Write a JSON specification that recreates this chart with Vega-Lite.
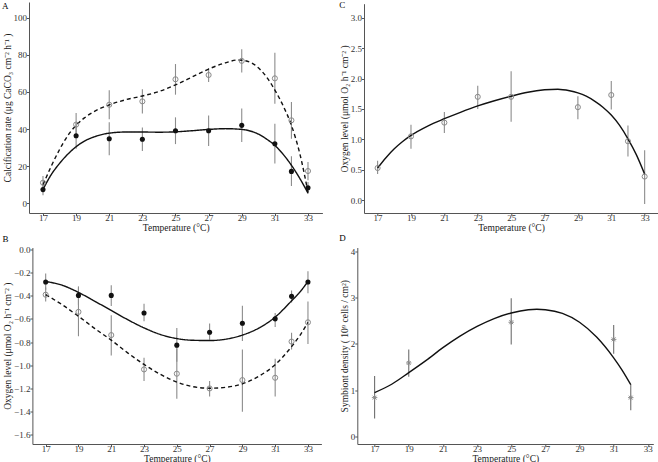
{
  "$schema": "https://vega.github.io/schema/vega-lite/v6.json",
  "padding": {"left": 2, "top": 0, "right": 0, "bottom": 0},
  "columns": 2,
  "align": "none",
  "bounds": "flush",
  "spacing": {"row": 34.5, "column": 34.3},
  "datasets": {
    "a_pts": [
      {"t":17,"g":"f","v":7.4,"lo":4.3,"hi":10.6},
      {"t":19,"g":"f","v":36.4,"lo":29.4,"hi":43.4},
      {"t":21,"g":"f","v":34.8,"lo":25.9,"hi":43.7},
      {"t":23,"g":"f","v":34.5,"lo":28.2,"hi":40.8},
      {"t":25,"g":"f","v":39.1,"lo":31.9,"hi":46.3},
      {"t":27,"g":"f","v":39.1,"lo":30.9,"hi":47.3},
      {"t":29,"g":"f","v":42.0,"lo":33.0,"hi":51.0},
      {"t":31,"g":"f","v":32.1,"lo":21.4,"hi":42.8},
      {"t":32,"g":"f","v":17.2,"lo":9.3,"hi":25.3},
      {"t":33,"g":"f","v":8.4,"lo":5.2,"hi":11.5},
      {"t":17,"g":"o","v":11.1,"lo":7.9,"hi":14.7},
      {"t":19,"g":"o","v":42.4,"lo":36.4,"hi":48.6},
      {"t":21,"g":"o","v":53.1,"lo":45.3,"hi":60.9},
      {"t":23,"g":"o","v":54.9,"lo":48.4,"hi":61.4},
      {"t":25,"g":"o","v":66.8,"lo":58.5,"hi":75.0},
      {"t":27,"g":"o","v":69.1,"lo":65.3,"hi":72.9},
      {"t":29,"g":"o","v":76.7,"lo":70.4,"hi":82.9},
      {"t":31,"g":"o","v":67.3,"lo":53.6,"hi":81.1},
      {"t":32,"g":"o","v":44.7,"lo":34.8,"hi":54.6},
      {"t":33,"g":"o","v":17.4,"lo":12.4,"hi":22.3}
    ],
    "a_fit": [
      {"t":17,"g":"f","v":7.5},{"t":17.5,"g":"f","v":15.5},{"t":18,"g":"f","v":21.5},{"t":18.5,"g":"f","v":26.5},
      {"t":19,"g":"f","v":30.5},{"t":19.5,"g":"f","v":33.5},{"t":20,"g":"f","v":35.5},{"t":21,"g":"f","v":37.8},
      {"t":22,"g":"f","v":38.4},{"t":23,"g":"f","v":38.4},{"t":24,"g":"f","v":38.3},{"t":25,"g":"f","v":38.5},
      {"t":26,"g":"f","v":39.1},{"t":27,"g":"f","v":39.8},{"t":28,"g":"f","v":40.2},{"t":29,"g":"f","v":39.8},
      {"t":30,"g":"f","v":37.3},{"t":30.5,"g":"f","v":34.6},{"t":31,"g":"f","v":31.2},{"t":31.5,"g":"f","v":26.4},
      {"t":32,"g":"f","v":20.5},{"t":32.5,"g":"f","v":13.5},{"t":33,"g":"f","v":5.5},
      {"t":17,"g":"o","v":10},{"t":17.5,"g":"o","v":20},{"t":18,"g":"o","v":29},{"t":18.5,"g":"o","v":36.5},
      {"t":19,"g":"o","v":42},{"t":19.5,"g":"o","v":46},{"t":20,"g":"o","v":49},{"t":21,"g":"o","v":53},
      {"t":22,"g":"o","v":55.8},{"t":23,"g":"o","v":57.8},{"t":24,"g":"o","v":60.2},{"t":25,"g":"o","v":63.8},
      {"t":26,"g":"o","v":68},{"t":27,"g":"o","v":72.3},{"t":28,"g":"o","v":75.6},{"t":28.8,"g":"o","v":77.2},
      {"t":29.5,"g":"o","v":76},{"t":30,"g":"o","v":73},{"t":30.5,"g":"o","v":68},{"t":31,"g":"o","v":61},
      {"t":31.5,"g":"o","v":52.5},{"t":32,"g":"o","v":42},{"t":32.5,"g":"o","v":27},{"t":33,"g":"o","v":6}
    ],
    "c_pts": [
      {"t":17,"v":0.53,"lo":0.43,"hi":0.65},
      {"t":19,"v":1.05,"lo":0.845,"hi":1.24},
      {"t":21,"v":1.276,"lo":1.105,"hi":1.45},
      {"t":23,"v":1.70,"lo":1.50,"hi":1.88},
      {"t":25,"v":1.70,"lo":1.29,"hi":2.12},
      {"t":29,"v":1.53,"lo":1.33,"hi":1.71},
      {"t":31,"v":1.73,"lo":1.49,"hi":1.96},
      {"t":32,"v":0.97,"lo":0.72,"hi":1.23},
      {"t":33,"v":0.39,"lo":-0.06,"hi":0.82}
    ],
    "c_fit": [
      {"t":17,"v":0.53},{"t":17.5,"v":0.70},{"t":18,"v":0.845},{"t":18.5,"v":0.965},{"t":19,"v":1.066},
      {"t":20,"v":1.22},{"t":21,"v":1.34},{"t":22,"v":1.45},{"t":23,"v":1.55},{"t":24,"v":1.635},
      {"t":25,"v":1.71},{"t":26,"v":1.775},{"t":27,"v":1.815},{"t":27.8,"v":1.825},{"t":28.5,"v":1.80},
      {"t":29,"v":1.765},{"t":29.5,"v":1.71},{"t":30,"v":1.63},{"t":30.5,"v":1.53},{"t":31,"v":1.40},
      {"t":31.5,"v":1.23},{"t":32,"v":1.01},{"t":32.5,"v":0.75},{"t":33,"v":0.43}
    ],
    "b_pts": [
      {"t":17,"g":"f","v":-0.283,"lo":-0.35,"hi":-0.21},
      {"t":19,"g":"f","v":-0.398,"lo":-0.48,"hi":-0.32},
      {"t":21,"g":"f","v":-0.398,"lo":-0.49,"hi":-0.31},
      {"t":23,"g":"f","v":-0.55,"lo":-0.62,"hi":-0.47},
      {"t":25,"g":"f","v":-0.827,"lo":-0.97,"hi":-0.68},
      {"t":27,"g":"f","v":-0.716,"lo":-0.78,"hi":-0.64},
      {"t":29,"g":"f","v":-0.638,"lo":-0.79,"hi":-0.487},
      {"t":31,"g":"f","v":-0.60,"lo":-0.67,"hi":-0.55},
      {"t":32,"g":"f","v":-0.406,"lo":-0.46,"hi":-0.355},
      {"t":33,"g":"f","v":-0.283,"lo":-0.38,"hi":-0.19},
      {"t":17,"g":"o","v":-0.392,"lo":-0.45,"hi":-0.33},
      {"t":19,"g":"o","v":-0.54,"lo":-0.75,"hi":-0.33},
      {"t":21,"g":"o","v":-0.74,"lo":-0.915,"hi":-0.57},
      {"t":23,"g":"o","v":-1.036,"lo":-1.136,"hi":-0.935},
      {"t":25,"g":"o","v":-1.073,"lo":-1.288,"hi":-0.855},
      {"t":27,"g":"o","v":-1.20,"lo":-1.27,"hi":-1.136},
      {"t":29,"g":"o","v":-1.128,"lo":-1.40,"hi":-0.864},
      {"t":31,"g":"o","v":-1.108,"lo":-1.27,"hi":-0.945},
      {"t":32,"g":"o","v":-0.796,"lo":-0.864,"hi":-0.72},
      {"t":33,"g":"o","v":-0.63,"lo":-0.816,"hi":-0.45}
    ],
    "b_fit": [
      {"t":17,"g":"f","v":-0.278},{"t":18,"g":"f","v":-0.31},{"t":19,"g":"f","v":-0.372},{"t":20,"g":"f","v":-0.449},
      {"t":21,"g":"f","v":-0.527},{"t":22,"g":"f","v":-0.607},{"t":23,"g":"f","v":-0.678},{"t":24,"g":"f","v":-0.735},
      {"t":25,"g":"f","v":-0.77},{"t":26,"g":"f","v":-0.785},{"t":27,"g":"f","v":-0.787},{"t":28,"g":"f","v":-0.775},
      {"t":29,"g":"f","v":-0.74},{"t":30,"g":"f","v":-0.68},{"t":31,"g":"f","v":-0.585},{"t":32,"g":"f","v":-0.445},
      {"t":32.5,"g":"f","v":-0.37},{"t":33,"g":"f","v":-0.278},
      {"t":17,"g":"o","v":-0.392},{"t":18,"g":"o","v":-0.478},{"t":19,"g":"o","v":-0.578},{"t":20,"g":"o","v":-0.684},
      {"t":21,"g":"o","v":-0.784},{"t":22,"g":"o","v":-0.893},{"t":23,"g":"o","v":-0.993},{"t":24,"g":"o","v":-1.079},
      {"t":25,"g":"o","v":-1.145},{"t":26,"g":"o","v":-1.185},{"t":27,"g":"o","v":-1.198},{"t":28,"g":"o","v":-1.19},
      {"t":29,"g":"o","v":-1.16},{"t":30,"g":"o","v":-1.095},{"t":31,"g":"o","v":-0.995},{"t":32,"g":"o","v":-0.84},
      {"t":32.5,"g":"o","v":-0.745},{"t":33,"g":"o","v":-0.63}
    ],
    "d_pts": [
      {"t":17,"v":0.84,"lo":0.39,"hi":1.31},
      {"t":19,"v":1.59,"lo":1.29,"hi":1.88},
      {"t":25,"v":2.47,"lo":1.99,"hi":2.99},
      {"t":31,"v":2.10,"lo":1.79,"hi":2.41},
      {"t":32,"v":0.84,"lo":0.57,"hi":1.13}
    ],
    "d_fit": [
      {"t":17,"v":0.95},{"t":18,"v":1.13},{"t":19,"v":1.38},{"t":20,"v":1.64},{"t":21,"v":1.92},
      {"t":22,"v":2.17},{"t":23,"v":2.38},{"t":24,"v":2.55},{"t":25,"v":2.67},{"t":26,"v":2.74},
      {"t":26.5,"v":2.75},{"t":27,"v":2.74},{"t":28,"v":2.66},{"t":29,"v":2.47},{"t":30,"v":2.15},
      {"t":31,"v":1.70},{"t":31.5,"v":1.43},{"t":32,"v":1.12}
    ]
  },
  "concat": [
    {
      "width": 293.4, "height": 211,
      "title": {"text": "A", "offset": -8.5},
      "encoding": {"x": {"field": "t", "type": "quantitative", "scale": {"domain": [16.155, 33.87], "nice": false, "zero": false}, "axis": {"values": [17,19,21,23,25,27,29,31,33], "title": "Temperature (°C)"}}},
      "layer": [
        {"data": {"name": "a_pts"}, "mark": {"type": "rule", "color": "#8c8c8c", "strokeWidth": 1.1},
         "encoding": {"y": {"field": "lo", "type": "quantitative", "scale": {"domain": [-5.2, 108.4], "nice": false, "zero": false}, "axis": {"values": [0,20,40,60,80,100], "title": "Calcification rate (μg  CaCO₃  cm⁻²  h⁻¹ )"}}, "y2": {"field": "hi"}}},
        {"data": {"name": "a_fit"}, "mark": {"type": "line", "interpolate": "monotone", "color": "#111111", "strokeWidth": 1.4},
         "encoding": {"y": {"field": "v", "type": "quantitative", "scale": {"domain": [-5.2, 108.4], "nice": false, "zero": false}, "axis": {"values": [0,20,40,60,80,100], "title": "Calcification rate (μg  CaCO₃  cm⁻²  h⁻¹ )"}},
                      "strokeDash": {"field": "g", "type": "nominal", "scale": {"domain": ["f","o"], "range": [[1,0],[4,3]]}, "legend": null}}},
        {"data": {"name": "a_pts"}, "transform": [{"filter": "datum.g == 'o'"}], "mark": {"type": "point", "shape": "circle", "filled": false, "color": "#8a8a8a", "size": 26, "strokeWidth": 1, "opacity": 1},
         "encoding": {"y": {"field": "v", "type": "quantitative", "scale": {"domain": [-5.2, 108.4], "nice": false, "zero": false}, "axis": {"values": [0,20,40,60,80,100], "title": "Calcification rate (μg  CaCO₃  cm⁻²  h⁻¹ )"}}}},
        {"data": {"name": "a_pts"}, "transform": [{"filter": "datum.g == 'f'"}], "mark": {"type": "circle", "color": "#111111", "size": 26, "opacity": 1},
         "encoding": {"y": {"field": "v", "type": "quantitative", "scale": {"domain": [-5.2, 108.4], "nice": false, "zero": false}, "axis": {"values": [0,20,40,60,80,100], "title": "Calcification rate (μg  CaCO₃  cm⁻²  h⁻¹ )"}}}}
      ]
    },
    {
      "width": 300.7, "height": 211,
      "title": {"text": "C", "offset": -7.5},
      "encoding": {"x": {"field": "t", "type": "quantitative", "scale": {"domain": [16.185, 33.8], "range": [6.7, 300.7], "nice": false, "zero": false}, "axis": {"values": [17,19,21,23,25,27,29,31,33], "title": "Temperature (°C)"}}},
      "layer": [
        {"data": {"name": "c_pts"}, "mark": {"type": "rule", "color": "#8c8c8c", "strokeWidth": 1.1},
         "encoding": {"y": {"field": "lo", "type": "quantitative", "scale": {"domain": [-0.209, 3.23], "range": [211, 1.7], "nice": false, "zero": false}, "axis": {"values": [0,0.5,1,1.5,2,2.5,3], "format": ".1f", "offset": -6.7, "title": "Oxygen level (μmol O₂  h⁻¹  cm⁻² )"}}, "y2": {"field": "hi"}}},
        {"data": {"name": "c_fit"}, "mark": {"type": "line", "interpolate": "monotone", "color": "#111111", "strokeWidth": 1.4},
         "encoding": {"y": {"field": "v", "type": "quantitative", "scale": {"domain": [-0.209, 3.23], "range": [211, 1.7], "nice": false, "zero": false}, "axis": {"values": [0,0.5,1,1.5,2,2.5,3], "format": ".1f", "offset": -6.7, "title": "Oxygen level (μmol O₂  h⁻¹  cm⁻² )"}}}},
        {"data": {"name": "c_pts"}, "mark": {"type": "point", "shape": "circle", "filled": false, "color": "#8a8a8a", "size": 26, "strokeWidth": 1, "opacity": 1},
         "encoding": {"y": {"field": "v", "type": "quantitative", "scale": {"domain": [-0.209, 3.23], "range": [211, 1.7], "nice": false, "zero": false}, "axis": {"values": [0,0.5,1,1.5,2,2.5,3], "format": ".1f", "offset": -6.7, "title": "Oxygen level (μmol O₂  h⁻¹  cm⁻² )"}}}}
      ]
    },
    {
      "width": 292.4, "height": 196.5,
      "title": {"text": "B", "offset": 1.7},
      "encoding": {"x": {"field": "t", "type": "quantitative", "scale": {"domain": [16.19, 33.82], "range": [3.4, 292.4], "nice": false, "zero": false}, "axis": {"values": [17,19,21,23,25,27,29,31,33], "title": "Temperature (°C)"}}},
      "layer": [
        {"data": {"name": "b_pts"}, "mark": {"type": "rule", "color": "#8c8c8c", "strokeWidth": 1.1},
         "encoding": {"y": {"field": "lo", "type": "quantitative", "scale": {"domain": [-1.679, 0.015], "nice": false, "zero": false}, "axis": {"values": [0,-0.2,-0.4,-0.6,-0.8,-1,-1.2,-1.4,-1.6], "format": ".1f", "offset": -3.4, "title": "Oxygen level (μmol O₂  h⁻¹  cm⁻² )"}}, "y2": {"field": "hi"}}},
        {"data": {"name": "b_fit"}, "mark": {"type": "line", "interpolate": "monotone", "color": "#111111", "strokeWidth": 1.4},
         "encoding": {"y": {"field": "v", "type": "quantitative", "scale": {"domain": [-1.679, 0.015], "nice": false, "zero": false}, "axis": {"values": [0,-0.2,-0.4,-0.6,-0.8,-1,-1.2,-1.4,-1.6], "format": ".1f", "offset": -3.4, "title": "Oxygen level (μmol O₂  h⁻¹  cm⁻² )"}},
                      "strokeDash": {"field": "g", "type": "nominal", "scale": {"domain": ["f","o"], "range": [[1,0],[4,3]]}, "legend": null}}},
        {"data": {"name": "b_pts"}, "transform": [{"filter": "datum.g == 'o'"}], "mark": {"type": "point", "shape": "circle", "filled": false, "color": "#8a8a8a", "size": 26, "strokeWidth": 1, "opacity": 1},
         "encoding": {"y": {"field": "v", "type": "quantitative", "scale": {"domain": [-1.679, 0.015], "nice": false, "zero": false}, "axis": {"values": [0,-0.2,-0.4,-0.6,-0.8,-1,-1.2,-1.4,-1.6], "format": ".1f", "offset": -3.4, "title": "Oxygen level (μmol O₂  h⁻¹  cm⁻² )"}}}},
        {"data": {"name": "b_pts"}, "transform": [{"filter": "datum.g == 'f'"}], "mark": {"type": "circle", "color": "#111111", "size": 26, "opacity": 1},
         "encoding": {"y": {"field": "v", "type": "quantitative", "scale": {"domain": [-1.679, 0.015], "nice": false, "zero": false}, "axis": {"values": [0,-0.2,-0.4,-0.6,-0.8,-1,-1.2,-1.4,-1.6], "format": ".1f", "offset": -3.4, "title": "Oxygen level (μmol O₂  h⁻¹  cm⁻² )"}}}}
      ]
    },
    {
      "width": 296, "height": 196.5,
      "title": {"text": "D", "offset": 4},
      "encoding": {"x": {"field": "t", "type": "quantitative", "scale": {"domain": [15.987, 33.32], "nice": false, "zero": false}, "axis": {"values": [17,19,21,23,25,27,29,31,33], "title": "Temperature (°C)"}}},
      "layer": [
        {"data": {"name": "d_pts"}, "mark": {"type": "rule", "color": "#6f6f6f", "strokeWidth": 1.1},
         "encoding": {"y": {"field": "lo", "type": "quantitative", "scale": {"domain": [-0.162, 4.086], "nice": false, "zero": false}, "axis": {"values": [0,1,2,3,4], "title": "Symbiont density ( 10⁹ cells / cm²)"}}, "y2": {"field": "hi"}}},
        {"data": {"name": "d_fit"}, "mark": {"type": "line", "interpolate": "monotone", "color": "#111111", "strokeWidth": 1.4},
         "encoding": {"y": {"field": "v", "type": "quantitative", "scale": {"domain": [-0.162, 4.086], "nice": false, "zero": false}, "axis": {"values": [0,1,2,3,4], "title": "Symbiont density ( 10⁹ cells / cm²)"}}}},
        {"data": {"name": "d_pts"}, "mark": {"type": "point", "shape": "M-1,0L1,0M0,-1L0,1M-0.7,-0.7L0.7,0.7M-0.7,0.7L0.7,-0.7", "filled": false, "color": "#8a8a8a", "size": 30, "strokeWidth": 1, "opacity": 1},
         "encoding": {"y": {"field": "v", "type": "quantitative", "scale": {"domain": [-0.162, 4.086], "nice": false, "zero": false}, "axis": {"values": [0,1,2,3,4], "title": "Symbiont density ( 10⁹ cells / cm²)"}}}}
      ]
    }
  ],
  "config": {
    "view": {"stroke": null},
    "font": "Liberation Serif",
    "axis": {
      "grid": false, "domainColor": "#555555", "domainWidth": 1, "tickColor": "#555555", "tickWidth": 1, "tickSize": 2.5,
      "labelFont": "Liberation Serif", "labelFontSize": 9, "labelColor": "#333333",
      "titleFont": "Liberation Serif", "titleFontSize": 9.5, "titleFontWeight": "normal", "titleColor": "#1a1a1a"
    },
    "axisX": {"labelPadding": -2, "titlePadding": -0.5},
    "axisY": {"labelPadding": 0, "titlePadding": 1},
    "title": {"font": "Liberation Serif", "fontSize": 9, "fontWeight": "normal", "anchor": "start", "frame": "bounds", "baseline": "alphabetic", "color": "#000000"}
  }
}
